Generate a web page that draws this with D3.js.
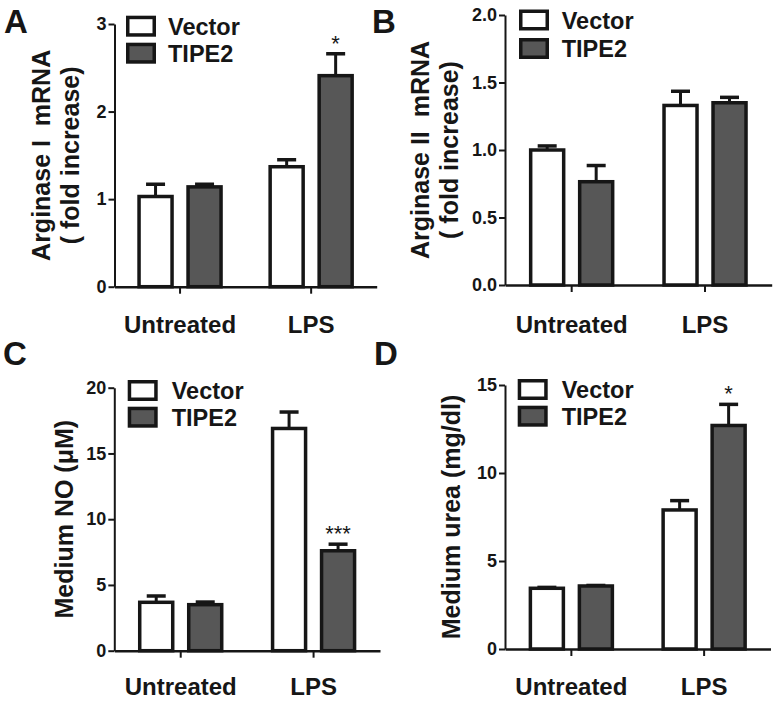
<!DOCTYPE html>
<html><head><meta charset="utf-8">
<script src="https://cdn.jsdelivr.net/npm/d3@7"></script>
<style>
body{margin:0;background:#fff;}
svg{display:block;font-family:"Liberation Sans",Arial,Helvetica,sans-serif;}
</style></head><body>
<svg id="chart" width="778" height="702"></svg>
<script>
// ---------------- DATA ----------------
const categories = ["Untreated", "LPS"];
const seriesNames = ["Vector", "TIPE2"];

// Panel A: Arginase I mRNA (fold increase)
const argIVector    = [1.03, 1.37];
const argIVectorErr = [0.14, 0.08];
const argITIPE2     = [1.14, 2.41];
const argITIPE2Err  = [0.03, 0.25];
const argITicks     = [0, 1, 2, 3];
const argISig       = ["", "*"];

// Panel B: Arginase II mRNA (fold increase)
const argIIVector    = [1.00, 1.33];
const argIIVectorErr = [0.03, 0.105];
const argIITIPE2     = [0.765, 1.35];
const argIITIPE2Err  = [0.12, 0.04];
const argIITicks     = [0, 0.5, 1.0, 1.5, 2.0];
const argIISig       = ["", ""];

// Panel C: Medium NO (µM)
const noVector    = [3.68, 16.9];
const noVectorErr = [0.48, 1.25];
const noTIPE2     = [3.5, 7.6];
const noTIPE2Err  = [0.2, 0.5];
const noTicks     = [0, 5, 10, 15, 20];
const noSig       = ["", "***"];

// Panel D: Medium urea (mg/dl)
const ureaVector    = [3.45, 7.9];
const ureaVectorErr = [0.05, 0.53];
const ureaTIPE2     = [3.58, 12.7];
const ureaTIPE2Err  = [0.03, 1.2];
const ureaTicks     = [0, 5, 10, 15];
const ureaSig       = ["", "*"];

// ---------------- STYLE / LAYOUT ----------------
const INK = "#161616";
const FILLS = {"Vector": "#ffffff", "TIPE2": "#575757"};

const panels = [
  { letter: "A", lx: 4, ly: 32.5,
    axisX: 114.5, xEnd: 376.7, yBase: 286.7, yTop: 24,
    ticks: argITicks, fmt: d3.format("d"),
    values: [argIVector, argITIPE2], errs: [argIVectorErr, argITIPE2Err], sig: argISig,
    title: [{t: "Arginase I  mRNA", x: 50}, {t: "( fold increase)", x: 79}],
    legX: 126, legY: 15.7, legStep: 27, legTextX: 168, catY: 333 },
  { letter: "B", lx: 372, ly: 32.5,
    axisX: 505, xEnd: 771.7, yBase: 285, yTop: 15,
    ticks: argIITicks, fmt: d3.format(".1f"),
    values: [argIIVector, argIITIPE2], errs: [argIIVectorErr, argIITIPE2Err], sig: argIISig,
    title: [{t: "Arginase II  mRNA", x: 429}, {t: "( fold increase)", x: 458}],
    legX: 519, legY: 9.5, legStep: 28.5, legTextX: 561.7, catY: 333 },
  { letter: "C", lx: 3, ly: 365,
    axisX: 114.3, xEnd: 380, yBase: 650.7, yTop: 387.7,
    ticks: noTicks, fmt: d3.format("d"),
    values: [noVector, noTIPE2], errs: [noVectorErr, noTIPE2Err], sig: noSig,
    title: [{t: "Medium NO (\u03bcM)", x: 73}],
    legX: 127.7, legY: 380, legStep: 26.7, legTextX: 171.7, catY: 695 },
  { letter: "D", lx: 374, ly: 365,
    axisX: 505, xEnd: 770.5, yBase: 649, yTop: 385,
    ticks: ureaTicks, fmt: d3.format("d"),
    values: [ureaVector, ureaTIPE2], errs: [ureaVectorErr, ureaTIPE2Err], sig: ureaSig,
    title: [{t: "Medium urea (mg/dl)", x: 460}],
    legX: 517.7, legY: 379, legStep: 26.7, legTextX: 561.7, catY: 695 }
];

const svg = d3.select("#chart");
const BAR_SW = 3.5;

panels.forEach(p => {
  const g = svg.append("g");
  const ticksMax = p.ticks[p.ticks.length - 1];
  const y = d3.scaleLinear().domain([0, ticksMax]).range([p.yBase, p.yTop]);
  const x = d3.scaleBand().domain(categories).range([p.axisX, p.xEnd]);
  const xs = d3.scaleBand().domain(seriesNames).range([-41, 41]).paddingInner(0.3265);

  // panel letter
  g.append("text").attr("x", p.lx).attr("y", p.ly)
    .attr("font-size", 33).attr("font-weight", "bold").attr("fill", INK)
    .text(p.letter);

  // bars
  seriesNames.forEach((s, si) => {
    categories.forEach((c, ci) => {
      const v = p.values[si][ci];
      const e = p.errs[si][ci];
      const cx = x(c) + x.bandwidth() / 2 + xs(s) + xs.bandwidth() / 2;
      // error bar (upper only)
      g.append("line").attr("x1", cx).attr("x2", cx)
        .attr("y1", y(v)).attr("y2", y(v + e))
        .attr("stroke", INK).attr("stroke-width", 3);
      g.append("line").attr("x1", cx - 9.5).attr("x2", cx + 9.5)
        .attr("y1", y(v + e)).attr("y2", y(v + e))
        .attr("stroke", INK).attr("stroke-width", 3.5);
      g.append("rect")
        .attr("x", x(c) + x.bandwidth() / 2 + xs(s))
        .attr("y", y(v))
        .attr("width", xs.bandwidth())
        .attr("height", y(0) - y(v))
        .attr("fill", FILLS[s]).attr("stroke", INK).attr("stroke-width", BAR_SW);
      if (si === 1 && p.sig[ci]) {
        g.append("text").attr("x", cx).attr("y", y(v + e) - 3)
          .attr("text-anchor", "middle").attr("font-size", 22).attr("fill", INK)
          .text(p.sig[ci]);
      }
    });
  });

  // y axis
  const yAxis = d3.axisLeft(y).tickValues(p.ticks).tickFormat(p.fmt)
    .tickSize(6).tickSizeOuter(0).tickPadding(2);
  const ya = g.append("g").attr("transform", `translate(${p.axisX},0)`).call(yAxis);
  ya.attr("font-size", null).attr("font-family", null);
  ya.select(".domain").attr("stroke", INK).attr("stroke-width", 2);
  ya.selectAll(".tick line").attr("stroke", INK).attr("stroke-width", 2);
  ya.selectAll(".tick text").attr("font-size", 18).attr("font-weight", "bold")
    .attr("fill", INK);

  // x axis
  const xAxis = d3.axisBottom(x).tickSize(7).tickSizeOuter(0).tickPadding(0);
  const xa = g.append("g").attr("transform", `translate(0,${p.yBase})`).call(xAxis);
  xa.attr("font-size", null).attr("font-family", null);
  xa.select(".domain").attr("stroke", INK).attr("stroke-width", 2.5);
  xa.selectAll(".tick line").attr("stroke", INK).attr("stroke-width", 2);
  xa.selectAll(".tick text").attr("font-size", 24).attr("font-weight", "bold")
    .attr("fill", INK)
    .attr("dy", null).attr("y", p.catY - p.yBase);

  // y axis title
  const cy = (p.yBase + p.yTop) / 2;
  p.title.forEach(t => {
    g.append("text")
      .attr("transform", `translate(${t.x},${cy}) rotate(-90)`)
      .attr("text-anchor", "middle").attr("font-size", 25).attr("font-weight", "bold")
      .attr("fill", INK).style("white-space", "pre")
      .text(t.t);
  });

  // legend
  seriesNames.forEach((s, si) => {
    const top = p.legY + si * p.legStep;
    g.append("rect").attr("x", p.legX + 1.75).attr("y", top + 1.75)
      .attr("width", 30 - 3.5).attr("height", 21 - 3.5)
      .attr("fill", FILLS[s]).attr("stroke", INK).attr("stroke-width", 3.5);
    g.append("text").attr("x", p.legTextX).attr("y", top + 19)
      .attr("font-size", 23.5).attr("font-weight", "bold").attr("fill", INK)
      .text(s);
  });
});
</script>
</body></html>
